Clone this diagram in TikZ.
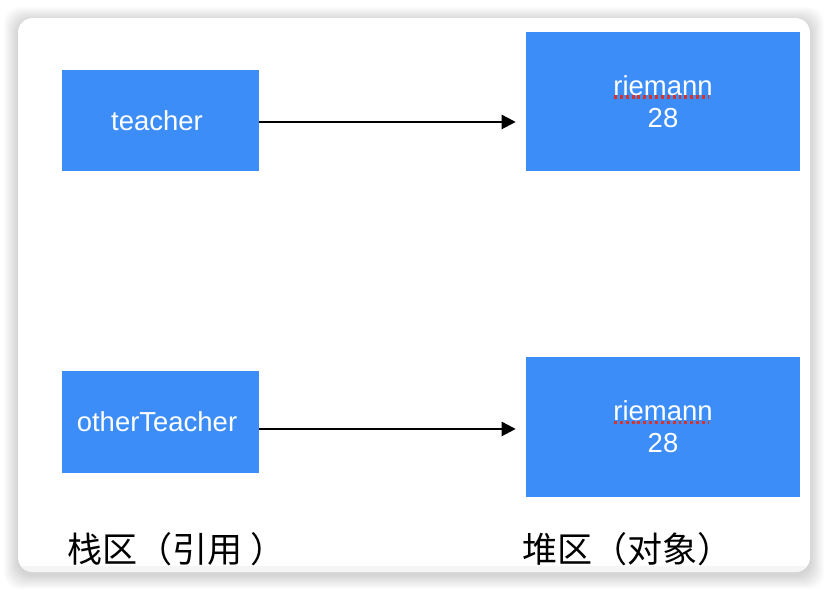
\documentclass[tikz,border=0pt]{standalone}
\usepackage{fontspec}
\setmainfont{Liberation Sans}
\newfontfamily\cjk{Noto Sans CJK SC}
\usetikzlibrary{arrows.meta}
\definecolor{boxblue}{RGB}{60,141,248}
\definecolor{spellred}{RGB}{214,52,44}

\tikzset{
	cell/.style = {fill = boxblue, text = white, inner sep = 0pt, align = center,
		font = \fontsize{20.6}{24}\selectfont},
	ptr/.style = {line width = 1.7pt, -{Triangle[length = 10.5pt, width = 10.5pt]}},
	wavy/.style = {spellred, line width = 2.4pt, dash pattern = on 2.2pt off 2.2pt}
}

\begin{document}
\begin{tikzpicture}[x = 0.75pt, y = -0.75pt]
	\useasboundingbox (0, 0) rectangle (828, 590);
	\fill[white] (0, 0) rectangle (828, 590);
	
	% card with its shadow
	\foreach \s in {1, ..., 14}
	\fill[black, opacity = 0.011, rounded corners = 12pt] (18 - \s, 21 - \s) rectangle (810 + \s, 575 + \s);
	\fill[white, rounded corners = 11pt] (18, 18) rectangle (810, 572);
	
	% stack side
	\node[cell, minimum width = 147.75pt, minimum height = 75.75pt] (tch) at (160.5, 120.5) {\raisebox{-1.2pt}{teacher}\kern5.25pt};
	\node[cell, minimum width = 147.75pt, minimum height = 76.5pt] (oth) at (160.5, 421.5) {\raisebox{-1.2pt}{otherTeacher}\kern5.25pt};
	
	% heap side
	\node[cell, minimum width = 205.5pt, minimum height = 104.25pt] (obj1) at (663, 101.5) {riemann\\28};
	\node[cell, minimum width = 205.5pt, minimum height = 105pt] (obj2) at (663, 426.8) {riemann\\28};
	
	\draw[wavy] ([shift = {(-49, -4.5)}]obj1.center) -- ([shift = {(46, -4.5)}]obj1.center);
	\draw[wavy] ([shift = {(-49, -4.3)}]obj2.center) -- ([shift = {(46, -4.3)}]obj2.center);
	
	% references
	\coordinate (t1) at ([yshift = -1.1pt]tch.east);
	\coordinate (t2) at ([yshift = -5.6pt]oth.east);
	\draw[ptr] (t1) -- ([xshift = -7.5pt]t1 -| obj1.west);
	\draw[ptr] (t2) -- ([xshift = -7.5pt]t2 -| obj2.west);
	
	% captions, cut by the card's lower edge
	\begin{scope}
		\clip (18, 18) rectangle (810, 566);
		\node[anchor = base west, inner sep = 0pt, font = \cjk\fontsize{26.3}{30}\selectfont] (stk) at (67, 562) {栈区（引用 ）};
		\node[anchor = base west, inner sep = 0pt, font = \cjk\fontsize{26.3}{30}\selectfont] (hep) at (522, 562) {堆区（对象）};
	\end{scope}
	\begin{scope}
		\clip[rounded corners = 11pt] (18, 18) rectangle (810, 572);
		\fill[black!4] (18, 566) rectangle (810, 572);
	\end{scope}
\end{tikzpicture}
\end{document}
